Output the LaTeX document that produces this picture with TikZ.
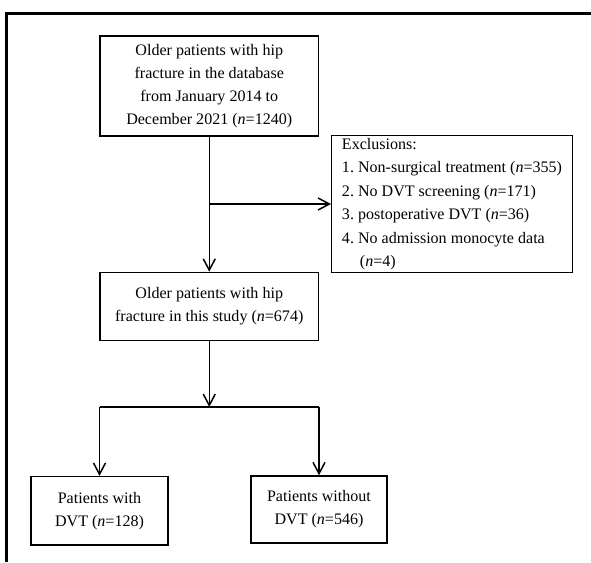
\documentclass[tikz,border=0pt]{standalone}
\usepackage{fontspec}
\setmainfont{Liberation Serif}
\usetikzlibrary{arrows.meta}

\tikzset{
  box/.style={draw=black, line width=0.045cm, inner sep=0pt, align=center,
    font=\fontsize{13.7}{19.6}\selectfont\frenchspacing},
  frame/.style={draw=black, line width=0.09cm},
}

\begin{document}
\begin{tikzpicture}[x=0.03cm,y=-0.03cm]
\useasboundingbox (0,0) rectangle (591,562);
\draw[frame] (6,562) -- (6,13.3) -- (591,13.3);

%\begin{scope}[every node/.style={box}]
\begin{scope}
    \node[box, minimum width=6.555cm, minimum height=3.01cm] (db) at (209.25,86)
        {Older patients with hip\\fracture in the database\\from January 2014 to\\December 2021 (\textit{n}=1240)};
    \node[box, minimum width=7.215cm, minimum height=4.107cm, align=left,
          font=\fontsize{13.7}{20}\selectfont\frenchspacing] (excl) at (452,204)
        {Exclusions:\\1. Non-surgical treatment (\textit{n}=355)\\2. No DVT screening (\textit{n}=171)\\3. postoperative DVT (\textit{n}=36)\\4. No admission monocyte data\\\hspace*{0.54cm}(\textit{n}=4)};
    \node[box, minimum width=6.555cm, minimum height=2.043cm] (study) at (209.25,306.5)
        {Older patients with hip\\fracture in this study (\textit{n}=674)};
    \node[box, minimum width=4.104cm, minimum height=2.043cm] (dvt) at (99.5,510.7)
        {Patients with\\DVT (\textit{n}=128)};
    \node[box, minimum width=4.09cm, minimum height=2.01cm] (nodvt) at (319,509.5)
        {Patients without\\DVT (\textit{n}=546)};
    \coordinate (cut) at (209.25,204);
    \coordinate (split) at (209.25,407);
    \coordinate (splitL) at (99.5,407);
    \coordinate (splitR) at (319,407);
\end{scope}

\begin{scope}[>={Straight Barb[length=3.4mm,width=3.6mm]}, line width=0.045cm]
    \path [->] (db) edge (study);
    \path [->] (cut) edge (excl);

    \path [->] (study) edge (split);
    \path [-] (splitL) edge (splitR);
    \path [->] (splitL) edge (dvt);
    \path [->] (splitR) edge (nodvt);
\end{scope}
\end{tikzpicture}
\end{document}
